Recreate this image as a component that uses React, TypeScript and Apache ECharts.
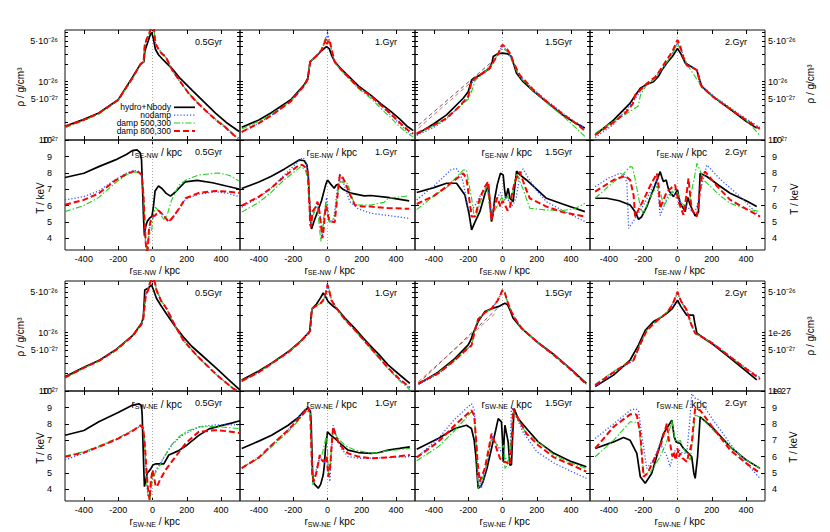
import React, { useEffect, useRef } from "react";
import * as echarts from "echarts";

type Pt = [number, number];

// ---------- labels / ticks ----------
const TIMES = ["0.5Gyr", "1.Gyr", "1.5Gyr", "2.Gyr"];
const SERIES_NAMES = ["hydro+Nbody", "nodamp", "damp 500,300", "damp 800,300"];
const X_TICKS = [-400, -200, 0, 200, 400];
const T_TICKS = [4, 5, 6, 7, 8, 9, 10];
const RHO_LABEL_VALUES = [1, 5, 10, 50]; // units of 1e-27 g/cm^3
const RHO_LABELS = ["10⁻²⁷", "5·10⁻²⁷", "10⁻²⁶", "5·10⁻²⁶"];
const RHO_LABELS_ALT = ["1e-27", "5·10⁻²⁷", "1e-26", "5·10⁻²⁶"];
const RHO_TICK_VALUES = [1, 2, 3, 4, 5, 6, 7, 8, 9, 10, 20, 30, 40, 50, 60, 70];
const AXIS_DIRS = ["SE-NW", "SW-NE"];

// ---------- data: density in units of 1e-27 g/cm^3, temperature in keV ----------
// SE-NW 0.5 Gyr
const seNwRho05Hydro: Pt[] = [[-510,1.72],[-400,2.26],[-313,2.9],[-200,4.9],[-120,11.5],[-70,20],[-50,22],[-45,33],[-40,37],[-25,50],[-12,66],[-5,70],[5,55],[17,36],[35,29],[55,25],[80,21],[113,17],[160,11.5],[230,7.2],[300,4.5],[367,2.9],[430,2.0],[505,1.4]];
const seNwRho05Nodamp: Pt[] = [[-510,1.68],[-400,2.2],[-313,2.85],[-200,4.8],[-120,11],[-70,19.5],[-52,22],[-46,40],[-35,52],[-20,65],[-8,85],[0,90],[8,85],[17,46],[35,36],[55,31],[76,27],[95,21],[114,16],[160,10],[211,6.3],[260,4.4],[309,3.2],[370,2.2],[425,1.62],[473,1.2],[500,1.06]];
const seNwRho05D500: Pt[] = [[-510,1.62],[-400,2.15],[-313,2.8],[-200,4.75],[-120,10.8],[-70,19.5],[-52,22],[-46,42],[-35,54],[-20,66],[-8,82],[0,88],[8,82],[17,45],[35,37],[55,31],[76,26.5],[95,21],[114,15.5],[160,10],[211,6.4],[260,4.5],[309,3.25],[370,2.25],[425,1.7],[473,1.25],[500,1.1]];
const seNwRho05D800: Pt[] = [[-510,1.7],[-400,2.22],[-313,2.88],[-200,4.85],[-120,11.2],[-70,20],[-52,22],[-46,41],[-35,53],[-20,66],[-8,84],[0,90],[8,84],[17,45],[35,36],[55,30],[76,27],[95,21],[114,16],[160,10.2],[211,6.3],[260,4.4],[309,3.2],[370,2.2],[425,1.65],[473,1.22],[500,1.08]];
const seNwT05Hydro: Pt[] = [[-510,7.72],[-400,7.98],[-313,8.39],[-216,8.8],[-150,9.15],[-118,9.37],[-90,9.42],[-72,9.25],[-64,8.8],[-58,7.0],[-52,5.2],[-47,4.15],[-40,4.7],[-30,5.05],[-15,5.25],[-3,5.35],[5,5.9],[15,6.9],[35,7.2],[55,7.05],[80,6.75],[105,6.58],[135,6.85],[190,7.45],[260,7.55],[350,7.4],[430,7.2],[505,7.02]];
const seNwT05Nodamp: Pt[] = [[-510,6.35],[-400,6.55],[-313,6.9],[-216,7.6],[-150,8.0],[-110,8.15],[-80,8.1],[-62,7.9],[-52,6.6],[-46,5.0],[-40,3.7],[-33,3.2],[-25,3.8],[-15,4.7],[-5,5.1],[5,5.3],[17,5.4],[35,5.7],[55,5.5],[76,5.25],[95,5.05],[120,5.3],[163,5.9],[192,6.4],[270,6.7],[367,6.85],[440,6.75],[505,6.55]];
const seNwT05D500: Pt[] = [[-510,5.63],[-400,6.0],[-313,6.5],[-216,7.4],[-150,7.9],[-110,8.05],[-80,8.05],[-62,7.85],[-52,6.8],[-46,5.2],[-40,3.6],[-32,3.3],[-20,4.2],[-5,4.5],[5,5.4],[17,5.9],[35,5.7],[56,5.3],[66,5.15],[85,5.4],[110,6.3],[153,7.25],[200,7.6],[270,7.88],[386,8.0],[450,7.85],[505,7.5]];
const seNwT05D800: Pt[] = [[-510,6.05],[-400,6.35],[-313,6.75],[-216,7.55],[-150,7.95],[-110,8.1],[-80,8.05],[-62,7.85],[-52,6.5],[-46,5.0],[-40,3.8],[-35,3.2],[-28,3.3],[-20,4.6],[-10,5.1],[2,5.35],[17,5.4],[35,5.7],[55,5.5],[76,5.25],[95,5.0],[120,5.3],[163,5.95],[192,6.45],[270,6.78],[367,6.9],[440,6.85],[505,6.78]];

// SE-NW 1 Gyr
const seNwRho10Hydro: Pt[] = [[-500,1.65],[-400,2.2],[-330,2.9],[-214,4.9],[-136,8.8],[-115,11.4],[-108,16],[-101,22],[-68,27],[-35,34],[-6,40],[10,37],[25,28],[42,22],[80,16.5],[116,13],[180,8.5],[252,5.9],[310,4.2],[369,3.1],[420,2.3],[466,1.7],[500,1.45]];
const seNwRho10Nodamp: Pt[] = [[-500,1.35],[-400,1.95],[-330,2.6],[-214,4.6],[-136,8.5],[-115,11],[-101,22],[-68,27],[-35,34],[-15,47],[-5,55],[0,72],[5,60],[15,45],[25,32],[42,22],[80,16],[116,12.5],[180,8],[252,5.6],[310,3.9],[369,2.7],[420,1.9],[466,1.4],[500,1.2]];
const seNwRho10D500: Pt[] = [[-500,1.55],[-400,2.1],[-330,2.75],[-214,4.7],[-136,8.5],[-115,11],[-101,22],[-68,27],[-35,35],[-20,48],[-10,58],[0,52],[8,54],[15,45],[25,32],[42,21],[80,15.5],[116,12],[180,7.6],[252,5.2],[310,3.5],[369,2.4],[420,1.7],[466,1.3],[500,1.12]];
const seNwRho10D800: Pt[] = [[-500,1.38],[-400,1.95],[-330,2.6],[-214,4.6],[-136,8.5],[-115,11],[-101,22],[-68,27],[-35,35],[-15,48],[-8,54],[-2,44],[5,50],[12,52],[22,38],[42,22],[80,16],[116,12.5],[180,8],[252,5.7],[310,4.0],[369,2.8],[420,2.0],[466,1.5],[500,1.28]];
const seNwT10Hydro: Pt[] = [[-500,7.05],[-400,7.45],[-330,7.78],[-250,8.25],[-165,8.8],[-136,8.75],[-120,8.5],[-112,7.8],[-105,6.24],[-98,5.0],[-93,4.57],[-80,5.0],[-58,5.63],[-35,6.3],[-10,7.3],[0,7.57],[20,7.3],[39,7.06],[50,7.25],[58,7.3],[90,7.0],[136,6.76],[214,6.6],[252,6.62],[350,6.5],[476,6.29]];
const seNwT10Nodamp: Pt[] = [[-500,5.9],[-400,6.5],[-330,7.06],[-250,7.9],[-165,8.75],[-146,8.94],[-130,8.8],[-112,8.0],[-104,6.0],[-96,4.71],[-88,5.4],[-60,6.2],[-40,5.2],[-30,4.1],[-20,5.2],[-5,6.5],[5,5.6],[15,5.0],[35,5.1],[55,6.8],[72,7.98],[90,7.5],[130,6.24],[180,5.8],[252,5.53],[350,5.4],[476,5.22]];
const seNwT10D500: Pt[] = [[-500,5.6],[-400,6.2],[-330,6.8],[-250,7.6],[-155,8.39],[-130,8.2],[-112,7.5],[-104,6.0],[-98,4.71],[-88,5.3],[-60,6.0],[-48,4.8],[-39,3.8],[-30,4.5],[-10,6.24],[0,5.8],[8,5.02],[20,5.0],[42,5.33],[60,6.8],[72,7.47],[117,7.37],[140,6.6],[159,6.04],[252,6.04],[330,6.2],[353,6.45],[476,6.6]];
const seNwT10D800: Pt[] = [[-500,6.0],[-400,6.55],[-330,7.06],[-250,7.8],[-165,8.49],[-146,8.49],[-125,8.3],[-115,7.98],[-105,6.0],[-101,4.82],[-95,4.7],[-88,5.63],[-70,5.9],[-58,6.24],[-45,5.5],[-35,4.5],[-29,4.0],[-22,4.6],[-16,5.43],[-8,6.0],[0,5.5],[10,5.1],[23,5.02],[42,4.98],[55,6.3],[72,7.88],[85,7.8],[101,7.47],[130,6.7],[159,6.04],[200,5.95],[252,5.94],[350,5.85],[476,5.8]];

// SE-NW 1.5 Gyr
const seNwRho15Hydro: Pt[] = [[-500,1.25],[-400,1.9],[-326,2.7],[-229,5.2],[-200,6.7],[-185,9.5],[-180,10.7],[-132,13],[-74,17],[-60,22],[-54,27],[-30,30],[0,31],[30,30],[52,27],[70,18],[82,14],[120,10],[180,6.9],[256,4.5],[350,2.7],[420,2.0],[480,1.6]];
const seNwRho15Nodamp: Pt[] = [[-500,1.2],[-400,1.65],[-326,2.3],[-229,4.3],[-200,5.3],[-180,9.5],[-150,11.5],[-100,14.5],[-74,17],[-45,24],[-25,31],[-8,38],[0,40],[10,38],[33,33],[45,29],[62,21],[101,12.5],[180,7.4],[256,4.8],[350,2.9],[420,2.1],[480,1.6]];
const seNwRho15D500: Pt[] = [[-500,1.3],[-400,1.75],[-326,2.4],[-229,4.2],[-200,5.0],[-175,7.5],[-160,10.5],[-130,12.5],[-100,15],[-74,17],[-45,24],[-25,30],[-8,35],[0,37],[10,36],[33,32],[45,27],[62,20],[101,12],[180,6.9],[256,4.4],[350,2.6],[420,1.7],[480,1.15]];
const seNwRho15D800: Pt[] = [[-500,1.3],[-400,1.8],[-326,2.35],[-250,3.8],[-200,5.6],[-180,10.2],[-150,12],[-100,15],[-74,17],[-45,24],[-25,30],[-8,40],[0,43],[10,41],[33,34],[45,30],[62,22],[101,13],[180,7.2],[256,4.6],[350,2.8],[420,2.0],[480,1.45]];
const seNwRho15ThinA: Pt[] = [[-490,1.8],[-54,23]];
const seNwRho15ThinB: Pt[] = [[-490,1.6],[-62,20]];
const seNwT15Hydro: Pt[] = [[-500,6.8],[-400,7.1],[-326,7.37],[-268,7.37],[-219,6.65],[-195,5.5],[-180,4.51],[-160,5.0],[-132,5.63],[-100,6.8],[-83,7.27],[-74,6.3],[-64,5.02],[-55,5.5],[-45,6.45],[-30,7.3],[-12,7.98],[4,7.88],[12,7.0],[19,6.45],[33,7.06],[43,6.45],[62,6.24],[72,7.2],[82,8.12],[100,7.9],[140,7.57],[200,7.0],[256,6.45],[350,6.1],[480,5.63]];
const seNwT15Nodamp: Pt[] = [[-500,6.35],[-400,7.2],[-300,8.2],[-270,8.29],[-250,8.0],[-230,7.47],[-200,5.8],[-190,5.63],[-160,6.0],[-120,6.8],[-85,7.3],[-75,6.0],[-64,5.3],[-50,6.0],[-30,6.5],[-12,6.8],[5,6.2],[20,6.6],[40,6.2],[60,6.0],[80,6.5],[100,7.8],[120,8.25],[150,7.7],[200,6.9],[256,6.24],[350,5.7],[480,5.02]];
const seNwT15D500: Pt[] = [[-500,5.75],[-400,6.6],[-326,7.1],[-229,8.18],[-210,8.2],[-190,7.0],[-180,6.45],[-165,5.33],[-150,5.5],[-120,6.5],[-90,7.2],[-75,5.9],[-64,5.3],[-45,5.7],[-20,6.2],[-5,6.5],[10,6.3],[30,6.6],[50,6.0],[65,7.2],[82,7.98],[120,7.0],[159,5.84],[256,5.73],[350,5.7],[420,5.8],[480,6.14]];
const seNwT15D800: Pt[] = [[-500,6.1],[-400,6.6],[-326,7.16],[-229,7.98],[-210,7.67],[-195,6.5],[-180,5.33],[-160,5.33],[-132,6.45],[-100,7.2],[-83,7.47],[-72,6.0],[-64,5.12],[-50,5.84],[-30,6.5],[-12,5.94],[0,6.3],[14,6.04],[30,5.7],[43,5.84],[55,6.7],[72,7.47],[101,8.08],[130,7.2],[159,6.45],[256,5.94],[350,5.6],[480,5.33]];

// SE-NW 2 Gyr
const seNwRho20Hydro: Pt[] = [[-480,1.22],[-373,2.2],[-276,4.3],[-217,7.7],[-180,9.0],[-140,10],[-110,12.5],[-91,15.8],[-62,21],[-30,27],[0,37],[20,30],[45,21],[74,18.6],[113,15.8],[130,10.5],[142,8.2],[210,5.5],[300,3.5],[400,2.1],[462,1.6]];
const seNwRho20Nodamp: Pt[] = [[-480,1.1],[-373,1.85],[-300,3.3],[-250,5.0],[-200,8.0],[-150,10.5],[-100,15],[-60,22],[-30,31],[0,47],[25,34],[54,20],[80,18.5],[113,15.5],[135,9],[150,8.2],[210,5.7],[300,3.7],[400,2.3],[480,1.65]];
const seNwRho20D500: Pt[] = [[-480,1.3],[-373,2.1],[-300,2.8],[-230,3.8],[-215,6.0],[-180,8.8],[-140,10.5],[-100,15.5],[-60,22],[-30,30],[0,45],[25,32],[54,20],[90,14],[113,11],[142,8.0],[210,5.6],[300,3.6],[400,2.2],[480,1.2]];
const seNwRho20D800: Pt[] = [[-480,1.22],[-373,2.0],[-300,3.0],[-260,4.2],[-247,5.9],[-179,9.3],[-130,12],[-101,15.8],[-70,22],[-30,33],[0,52],[15,42],[30,28],[54,19],[80,18],[113,15.8],[135,9.0],[142,8.2],[210,5.4],[300,3.5],[400,2.2],[480,1.55]];
const seNwT20Hydro: Pt[] = [[-480,6.45],[-412,6.45],[-340,6.3],[-276,6.04],[-245,5.6],[-227,5.16],[-210,5.3],[-179,5.94],[-140,7.0],[-101,8.08],[-90,7.7],[-82,7.47],[-66,7.57],[-55,7.1],[-47,6.86],[-23,6.55],[0,6.96],[8,6.5],[16,6.14],[45,5.63],[60,6.5],[74,6.04],[103,5.37],[122,5.6],[132,7.98],[171,7.78],[240,7.25],[307,6.76],[400,6.3],[462,5.94]];
const seNwT20Nodamp: Pt[] = [[-480,7.16],[-400,7.7],[-334,7.98],[-310,7.9],[-295,7.37],[-285,4.61],[-260,5.0],[-200,6.0],[-150,7.0],[-120,7.6],[-101,5.4],[-85,5.8],[-60,6.5],[-30,6.9],[-10,6.5],[10,6.3],[30,5.9],[50,6.0],[70,5.8],[90,5.6],[110,5.8],[140,7.2],[171,8.49],[250,7.6],[365,6.55],[481,5.33]];
const seNwT20D500: Pt[] = [[-480,6.45],[-400,7.2],[-320,7.9],[-276,8.39],[-262,8.35],[-250,7.8],[-217,5.94],[-200,5.5],[-160,6.5],[-120,7.2],[-100,6.8],[-80,6.0],[-50,6.5],[-20,7.0],[0,6.8],[20,6.2],[40,6.0],[70,6.3],[100,7.8],[113,8.59],[130,8.2],[152,7.57],[250,6.6],[307,6.14],[400,5.8],[481,5.63]];
const seNwT20D800: Pt[] = [[-480,6.86],[-373,7.57],[-305,7.82],[-276,7.57],[-256,6.65],[-247,5.33],[-225,5.8],[-198,6.35],[-160,7.2],[-120,7.98],[-110,7.2],[-101,5.84],[-80,6.4],[-62,6.86],[-14,7.27],[-5,6.8],[6,6.24],[35,5.43],[50,6.5],[64,7.67],[75,6.5],[83,5.73],[113,5.33],[130,6.8],[142,7.78],[161,8.08],[230,7.2],[307,6.35],[400,5.8],[481,5.33]];

// SW-NE 0.5 Gyr
const swNeRho05Hydro: Pt[] = [[-510,1.76],[-400,2.55],[-307,3.4],[-210,5.2],[-113,9.1],[-64,14.5],[-54,18],[-48,35],[-45,54],[-25,58],[-6,66],[5,55],[23,39],[50,29],[82,21],[130,13],[179,8.5],[230,5.8],[276,4.4],[373,2.45],[440,1.6],[509,1.05]];
const swNeRho05Nodamp: Pt[] = [[-510,1.7],[-400,2.5],[-307,3.35],[-210,5.1],[-113,9.0],[-64,14],[-54,17],[-45,30],[-39,44],[-25,55],[-16,70],[-5,85],[5,85],[15,70],[23,54],[50,36],[82,26],[130,13.5],[179,7.5],[230,5.1],[276,3.6],[373,1.9],[470,1.1],[500,1.0]];
const swNeRho05D500: Pt[] = [[-510,1.66],[-400,2.45],[-307,3.3],[-210,5.1],[-113,9.0],[-64,14],[-54,17],[-45,31],[-39,45],[-25,56],[-16,72],[-5,86],[5,86],[15,72],[23,55],[50,36],[82,25.5],[130,13.3],[179,7.4],[230,5.0],[276,3.55],[373,1.9],[470,1.1],[500,1.0]];
const swNeRho05D800: Pt[] = [[-510,1.72],[-400,2.5],[-307,3.35],[-210,5.1],[-113,9.0],[-64,14],[-54,17],[-45,30],[-39,44],[-25,54],[-16,70],[-5,84],[5,84],[15,70],[23,54],[50,35],[82,26],[130,13.5],[179,7.5],[230,5.0],[276,3.6],[373,1.9],[470,1.1],[500,1.0]];
const swNeT05Hydro: Pt[] = [[-510,7.31],[-400,7.6],[-313,8.13],[-200,8.7],[-118,9.14],[-80,9.24],[-64,9.14],[-60,8.5],[-56,7.0],[-50,5.0],[-47,4.16],[-40,4.5],[-31,4.98],[-12,5.22],[2,5.48],[17,5.55],[66,5.55],[95,6.1],[150,6.35],[200,6.7],[270,7.3],[330,7.7],[400,7.9],[460,8.05],[510,8.2]];
const swNeT05Nodamp: Pt[] = [[-510,5.8],[-400,6.2],[-313,6.6],[-200,7.1],[-118,7.6],[-64,7.9],[-50,7.5],[-42,6.0],[-35,4.6],[-27,3.6],[-15,3.5],[-5,4.5],[5,5.1],[17,5.1],[40,5.5],[80,6.2],[120,6.8],[173,7.3],[270,7.82],[367,7.95],[440,7.95],[505,7.95]];
const swNeT05D500: Pt[] = [[-510,6.03],[-400,6.3],[-313,6.65],[-200,7.15],[-118,7.6],[-64,7.92],[-50,7.6],[-42,6.0],[-35,4.5],[-25,3.6],[-15,3.3],[-8,4.0],[0,4.6],[10,4.9],[17,5.0],[40,5.4],[70,6.0],[110,6.7],[153,7.21],[200,7.55],[270,7.82],[367,7.85],[440,7.78],[505,7.72]];
const swNeT05D800: Pt[] = [[-510,5.99],[-400,6.25],[-313,6.6],[-200,7.1],[-118,7.55],[-70,7.92],[-55,7.75],[-45,6.8],[-35,5.2],[-27,4.1],[-17,3.35],[-10,4.5],[0,5.18],[8,4.8],[17,4.27],[25,4.15],[45,4.6],[76,5.18],[134,5.99],[192,6.8],[270,7.52],[367,7.62],[440,7.55],[505,7.45]];

// SW-NE 1 Gyr
const swNeRho10Hydro: Pt[] = [[-500,1.55],[-400,2.2],[-326,3.0],[-229,4.7],[-160,7.0],[-110,10.0],[-103,10.8],[-95,20],[-89,26],[-64,31],[-40,40],[-25,48],[-12,42],[4,34],[30,29],[62,24.5],[100,18],[159,11.9],[210,8.0],[256,5.7],[300,4.2],[353,2.8],[420,1.9],[480,1.35]];
const swNeRho10Nodamp: Pt[] = [[-500,1.45],[-400,2.1],[-326,2.95],[-229,4.6],[-160,6.9],[-110,9.8],[-100,11],[-93,22],[-89,26],[-64,29],[-40,32],[-25,36],[-10,48],[0,70],[8,55],[23,36],[62,24],[100,17],[159,11],[256,5.2],[353,2.45],[420,1.55],[480,1.12]];
const swNeRho10D500: Pt[] = [[-500,1.45],[-400,2.1],[-326,2.95],[-229,4.6],[-160,6.9],[-110,9.8],[-100,11],[-93,22],[-89,26],[-64,29],[-40,32],[-25,36],[-5,48],[4,60],[12,52],[23,36],[62,24],[100,17],[159,11],[256,5.2],[353,2.4],[420,1.5],[480,1.05]];
const swNeRho10D800: Pt[] = [[-500,1.5],[-400,2.1],[-326,2.95],[-229,4.6],[-160,6.9],[-110,9.8],[-100,11],[-93,22],[-89,26],[-64,29],[-40,32],[-25,36],[-10,48],[0,66],[8,55],[23,36],[62,24],[100,17],[159,11.2],[256,5.3],[353,2.5],[420,1.6],[480,1.15]];
const swNeT10Hydro: Pt[] = [[-500,6.5],[-400,6.95],[-326,7.31],[-229,7.92],[-170,8.4],[-132,8.84],[-113,8.98],[-100,8.8],[-95,8.0],[-90,6.0],[-85,4.5],[-75,4.3],[-54,4.06],[-40,4.3],[-25,4.87],[-18,5.5],[-12,6.5],[0,7.52],[20,7.3],[43,7.11],[80,6.75],[120,6.4],[180,6.25],[256,6.2],[300,6.25],[353,6.4],[420,6.5],[480,6.6]];
const swNeT10Nodamp: Pt[] = [[-500,5.3],[-400,5.95],[-326,6.7],[-229,7.65],[-170,8.4],[-113,9.1],[-100,8.7],[-94,6.6],[-86,4.67],[-70,5.0],[-50,5.8],[-25,5.9],[-15,5.6],[0,5.8],[14,4.47],[22,6.0],[33,7.92],[50,7.3],[80,6.5],[120,6.0],[180,5.9],[256,5.9],[350,5.95],[480,6.0]];
const swNeT10D500: Pt[] = [[-500,5.3],[-400,5.9],[-326,6.6],[-229,7.52],[-170,8.2],[-122,8.84],[-100,8.6],[-94,6.5],[-86,4.26],[-70,4.8],[-50,5.7],[-30,6.2],[-15,6.9],[-6,7.31],[0,6.5],[4,4.87],[15,5.5],[25,6.8],[33,7.52],[45,7.4],[62,7.11],[100,6.7],[159,6.4],[256,6.2],[350,6.35],[480,6.5]];
const swNeT10D800: Pt[] = [[-500,5.3],[-400,5.95],[-326,6.7],[-229,7.62],[-170,8.3],[-132,8.74],[-113,9.04],[-100,8.53],[-94,6.5],[-89,4.87],[-80,4.47],[-65,5.0],[-45,6.1],[-35,5.8],[-25,5.7],[-12,5.8],[-4,6.0],[4,4.77],[12,5.0],[19,5.9],[26,7.0],[33,7.82],[45,7.4],[62,6.9],[90,6.5],[120,6.2],[180,6.0],[256,5.9],[350,5.95],[480,6.1]];

// SW-NE 1.5 Gyr
const swNeRho15Hydro: Pt[] = [[-490,1.32],[-375,2.1],[-278,3.6],[-200,6.2],[-185,7.5],[-171,9.8],[-142,15.5],[-103,23],[-60,26],[-25,28],[14,32],[30,30],[45,24],[62,17.7],[111,11.9],[200,7.0],[305,4.1],[400,2.35],[489,1.35]];
const swNeRho15Nodamp: Pt[] = [[-490,1.3],[-375,1.95],[-278,3.3],[-200,5.4],[-181,6.0],[-161,11],[-142,17],[-103,22],[-64,26],[-30,35],[-10,46],[0,52],[14,48],[30,33],[52,23],[72,17.7],[111,12],[200,7.1],[305,4.1],[400,2.4],[489,1.3]];
const swNeRho15D500: Pt[] = [[-490,1.35],[-375,2.05],[-278,3.4],[-200,5.5],[-181,6.1],[-161,11],[-142,17],[-103,22],[-64,26],[-30,35],[-10,47],[0,54],[14,48],[30,33],[52,23],[72,17.5],[111,11.8],[200,7.0],[305,4.0],[400,2.3],[489,1.3]];
const swNeRho15D800: Pt[] = [[-490,1.35],[-375,2.0],[-278,3.4],[-200,5.5],[-181,6.0],[-161,11],[-142,17],[-103,22],[-64,26],[-30,35],[-10,46],[0,54],[14,48],[30,33],[52,23],[72,17.7],[111,12],[200,7.0],[305,4.0],[400,2.3],[489,1.3]];
const swNeRho15ThinA: Pt[] = [[-490,1.35],[-25,27]];
const swNeRho15ThinB: Pt[] = [[-490,1.45],[-45,21]];
const swNeT15Hydro: Pt[] = [[-500,6.45],[-375,7.11],[-278,7.72],[-210,7.92],[-181,7.72],[-165,7.0],[-155,6.0],[-142,4.06],[-125,4.2],[-113,4.47],[-90,5.3],[-64,6.5],[-40,7.6],[-25,8.33],[-6,8.13],[0,7.0],[4,5.69],[10,7.2],[14,7.92],[33,6.9],[43,5.48],[52,5.5],[60,7.5],[68,8.94],[91,8.33],[150,7.6],[208,6.9],[300,6.2],[402,5.69],[489,5.38]];
const swNeT15Nodamp: Pt[] = [[-500,5.95],[-375,7.1],[-278,8.3],[-181,9.24],[-165,8.9],[-150,6.3],[-142,4.87],[-123,4.06],[-100,5.0],[-75,6.5],[-60,7.31],[-45,7.0],[-20,6.5],[-6,6.3],[10,6.0],[33,5.69],[45,6.5],[52,9.04],[70,8.7],[120,7.5],[200,6.3],[300,5.6],[400,5.1],[489,4.67]];
const swNeT15D500: Pt[] = [[-500,5.75],[-375,6.6],[-278,7.6],[-181,8.74],[-165,8.5],[-150,6.0],[-142,4.06],[-120,4.5],[-95,5.5],[-64,7.11],[-45,6.9],[-25,6.6],[-6,6.5],[8,6.7],[14,5.28],[30,5.5],[45,6.5],[62,8.74],[82,8.4],[140,7.4],[208,6.9],[300,6.1],[400,5.6],[489,5.28]];
const swNeT15D800: Pt[] = [[-500,5.95],[-375,6.9],[-278,7.92],[-181,8.84],[-165,8.53],[-150,6.5],[-146,5.69],[-132,4.47],[-103,5.28],[-80,6.5],[-64,7.41],[-50,7.0],[-35,6.5],[-15,5.9],[0,5.69],[14,5.69],[30,5.6],[43,5.48],[52,6.5],[62,8.94],[82,8.53],[140,7.4],[208,6.7],[300,5.95],[400,5.5],[489,5.08]];

// SW-NE 2 Gyr
const swNeRho20Hydro: Pt[] = [[-480,1.19],[-373,1.87],[-276,3.4],[-227,6.2],[-188,11],[-140,15.5],[-100,18],[-62,21.5],[-30,26],[0,36],[20,28],[54,20],[93,20],[100,15],[113,9.8],[160,7.8],[210,6.2],[300,3.8],[400,2.2],[462,1.55]];
const swNeRho20Nodamp: Pt[] = [[-480,1.2],[-373,2.0],[-300,2.8],[-256,3.3],[-217,6.2],[-179,11],[-120,16],[-62,22],[-30,31],[0,48],[20,35],[54,23],[80,13.5],[103,9.6],[160,8.0],[210,6.5],[300,4.1],[400,2.45],[481,1.7]];
const swNeRho20D500: Pt[] = [[-480,1.3],[-373,2.15],[-300,2.95],[-256,3.5],[-217,6.5],[-179,11.2],[-120,16.5],[-62,22.5],[-30,30],[0,49],[20,35],[54,24.5],[80,14],[103,9.8],[160,7.9],[210,6.4],[300,4.0],[400,2.4],[481,1.65]];
const swNeRho20D800: Pt[] = [[-480,1.25],[-373,2.1],[-300,2.9],[-256,3.4],[-217,6.4],[-179,11],[-120,16],[-62,22],[-30,30],[0,50],[20,35],[54,24.5],[80,14],[103,9.8],[160,7.9],[210,6.4],[300,4.0],[400,2.4],[481,1.6]];
const swNeT20Hydro: Pt[] = [[-480,6.5],[-373,6.9],[-315,7.17],[-276,7.0],[-237,6.2],[-217,4.77],[-188,4.37],[-150,4.98],[-82,7.41],[-33,8.23],[-19,7.21],[-8,6.9],[16,6.8],[35,6.5],[54,6.3],[83,5.99],[95,5.0],[103,4.67],[117,5.99],[132,8.43],[210,7.72],[307,6.6],[400,5.8],[481,5.28]];
const swNeT20Nodamp: Pt[] = [[-480,7.11],[-373,8.0],[-276,8.84],[-245,8.94],[-227,8.8],[-208,7.31],[-179,5.28],[-140,5.8],[-101,6.8],[-60,6.0],[-43,5.38],[-20,6.3],[0,6.5],[30,6.2],[54,6.2],[70,8.0],[83,9.85],[100,9.6],[132,9.45],[210,8.2],[307,6.8],[400,5.6],[481,4.67]];
const swNeT20D500: Pt[] = [[-480,5.99],[-373,7.0],[-276,8.13],[-240,8.1],[-227,8.02],[-208,6.1],[-198,4.98],[-160,5.0],[-101,5.99],[-60,7.0],[-33,8.23],[-14,7.0],[0,6.9],[16,7.0],[45,6.3],[74,5.8],[90,7.2],[103,8.53],[132,8.43],[210,7.6],[307,6.6],[400,5.8],[481,5.28]];
const swNeT20D800: Pt[] = [[-480,6.5],[-373,7.82],[-276,8.59],[-245,8.6],[-237,8.53],[-217,7.41],[-198,4.77],[-175,4.98],[-101,6.6],[-62,8.02],[-50,7.0],[-43,6.8],[-30,6.0],[-23,6.3],[-10,5.8],[0,6.5],[8,6.0],[16,6.2],[30,5.9],[54,5.69],[83,6.8],[95,8.2],[103,8.94],[132,8.84],[210,7.72],[307,6.4],[400,5.6],[481,4.98]];

// ---------- layout & style ----------
const FONT = "'Liberation Sans', Arial, Helvetica, sans-serif";
const COL_LEFT = [65, 240, 415, 590];
const PANEL_W = 175;
const ROW_TOP = [30, 140, 281, 391];
const PANEL_H = 110;
const X_MIN = -510;
const X_MAX = 510;
const RHO_LOG_MAX = 1.887;
const T_MIN = 3.28;
const T_MAX = 10.02;

const LINE_STYLES = [
  { color: "#000000", width: 1.7, type: "solid" as any },
  { color: "#3355ff", width: 1.3, type: [1.2, 2] as any },
  { color: "#1fd11f", width: 1.1, type: [6, 2, 1.5, 2] as any },
  { color: "#ff0000", width: 2, type: [6, 3] as any },
];

const log10 = (v: number) => Math.log(v) / Math.LN10;

type Panel = { row: number; col: number; kind: "rho" | "T"; curves: Pt[][]; thin?: Pt[][] };

const PANELS: Panel[] = [
  { row: 0, col: 0, kind: "rho", curves: [seNwRho05Hydro, seNwRho05Nodamp, seNwRho05D500, seNwRho05D800] },
  { row: 0, col: 1, kind: "rho", curves: [seNwRho10Hydro, seNwRho10Nodamp, seNwRho10D500, seNwRho10D800] },
  { row: 0, col: 2, kind: "rho", curves: [seNwRho15Hydro, seNwRho15Nodamp, seNwRho15D500, seNwRho15D800], thin: [seNwRho15ThinA, seNwRho15ThinB] },
  { row: 0, col: 3, kind: "rho", curves: [seNwRho20Hydro, seNwRho20Nodamp, seNwRho20D500, seNwRho20D800] },
  { row: 1, col: 0, kind: "T", curves: [seNwT05Hydro, seNwT05Nodamp, seNwT05D500, seNwT05D800] },
  { row: 1, col: 1, kind: "T", curves: [seNwT10Hydro, seNwT10Nodamp, seNwT10D500, seNwT10D800] },
  { row: 1, col: 2, kind: "T", curves: [seNwT15Hydro, seNwT15Nodamp, seNwT15D500, seNwT15D800] },
  { row: 1, col: 3, kind: "T", curves: [seNwT20Hydro, seNwT20Nodamp, seNwT20D500, seNwT20D800] },
  { row: 2, col: 0, kind: "rho", curves: [swNeRho05Hydro, swNeRho05Nodamp, swNeRho05D500, swNeRho05D800] },
  { row: 2, col: 1, kind: "rho", curves: [swNeRho10Hydro, swNeRho10Nodamp, swNeRho10D500, swNeRho10D800] },
  { row: 2, col: 2, kind: "rho", curves: [swNeRho15Hydro, swNeRho15Nodamp, swNeRho15D500, swNeRho15D800], thin: [swNeRho15ThinA, swNeRho15ThinB] },
  { row: 2, col: 3, kind: "rho", curves: [swNeRho20Hydro, swNeRho20Nodamp, swNeRho20D500, swNeRho20D800] },
  { row: 3, col: 0, kind: "T", curves: [swNeT05Hydro, swNeT05Nodamp, swNeT05D500, swNeT05D800] },
  { row: 3, col: 1, kind: "T", curves: [swNeT10Hydro, swNeT10Nodamp, swNeT10D500, swNeT10D800] },
  { row: 3, col: 2, kind: "T", curves: [swNeT15Hydro, swNeT15Nodamp, swNeT15D500, swNeT15D800] },
  { row: 3, col: 3, kind: "T", curves: [swNeT20Hydro, swNeT20Nodamp, swNeT20D500, swNeT20D800] },
];

function rhoLabel(v: number, texts: string[]) {
  let best = 0;
  let bd = Infinity;
  RHO_LABEL_VALUES.forEach((rv, i) => {
    const d = Math.abs(log10(rv) - v);
    if (d < bd) { bd = d; best = i; }
  });
  return texts[best];
}

function rTitle(dir: string, x: number, y: number) {
  return {
    type: "text",
    x,
    y,
    z: 100,
    style: {
      text: `{a|r}{b|${dir}}{a| / kpc}`,
      fill: "#000",
      verticalAlign: "middle",
      align: "left",
      rich: {
        a: { fontSize: 10, fontFamily: FONT, fill: "#000" },
        b: { fontSize: 7, fontFamily: FONT, fill: "#000", padding: [5, 0, 0, 0] },
      },
    },
  };
}

function buildOption() {
  const grid: any[] = [];
  const xAxis: any[] = [];
  const yAxis: any[] = [];
  const series: any[] = [];
  const graphic: any[] = [];

  PANELS.forEach((p, idx) => {
    const left = COL_LEFT[p.col];
    const top = ROW_TOP[p.row];
    grid.push({ left, top, width: PANEL_W, height: PANEL_H, show: true, borderColor: "#111", borderWidth: 1, backgroundColor: "transparent" });
    const isT = p.kind === "T";
    const baseX = {
      type: "value", gridIndex: idx, min: X_MIN, max: X_MAX,
      axisLine: { show: false, onZero: false }, splitLine: { show: false },
      axisTick: { show: true, inside: true, length: 4, customValues: X_TICKS, lineStyle: { color: "#000", width: 1 } },
    };
    xAxis.push({ ...baseX, position: "bottom", axisLabel: { show: isT, customValues: X_TICKS, fontSize: 9, fontFamily: FONT, color: "#000", margin: 4 } });
    xAxis.push({ ...baseX, position: "top", axisLabel: { show: false } });

    const yMin = isT ? T_MIN : 0;
    const yMax = isT ? T_MAX : RHO_LOG_MAX;
    const tickVals = isT ? T_TICKS : RHO_TICK_VALUES.map(log10);
    const labelVals = isT ? T_TICKS : RHO_LABEL_VALUES.map(log10);
    const baseY = {
      type: "value", gridIndex: idx, min: yMin, max: yMax,
      axisLine: { show: false, onZero: false }, splitLine: { show: false },
      axisTick: { show: true, inside: true, length: isT ? 4 : 3, customValues: tickVals, lineStyle: { color: "#000", width: 1 } },
    };
    const leftTexts = RHO_LABELS;
    const rightTexts = p.row === 2 ? RHO_LABELS_ALT : RHO_LABELS;
    yAxis.push({
      ...baseY, position: "left",
      axisLabel: {
        show: p.col === 0, customValues: labelVals, fontSize: 9, fontFamily: FONT, color: "#000",
        margin: isT ? 13 : 7,
        formatter: (v: number) => (isT ? String(Math.round(v)) : rhoLabel(v, leftTexts)),
      },
    });
    yAxis.push({
      ...baseY, position: "right",
      axisLabel: {
        show: p.col === 3, customValues: labelVals, fontSize: 9, fontFamily: FONT, color: "#000",
        margin: isT ? 7 : 3,
        formatter: (v: number) => (isT ? String(Math.round(v)) : rhoLabel(v, rightTexts)),
      },
    });

    const conv = (pts: Pt[]) => pts.map(([x, v]) => [x, isT ? v : log10(v)]);

    (p.thin || []).forEach((pts, k) => {
      series.push({
        type: "line", xAxisIndex: idx * 2, yAxisIndex: idx * 2, data: conv(pts), symbol: "none", silent: true,
        lineStyle: { color: k === 0 ? "#333" : "#d04040", width: 0.8, type: [4, 3] }, z: 2,
      });
    });

    p.curves.forEach((pts, s) => {
      const st = LINE_STYLES[s];
      const ser: any = {
        type: "line", name: SERIES_NAMES[s], xAxisIndex: idx * 2, yAxisIndex: idx * 2,
        data: conv(pts), symbol: "none", silent: true, clip: true,
        lineStyle: { color: st.color, width: st.width, type: st.type }, z: 3 + s,
      };
      if (s === 0) {
        ser.markLine = {
          silent: true, symbol: ["none", "none"], label: { show: false },
          lineStyle: { color: "#aaaaaa", width: 1, type: [1, 2] },
          data: [{ xAxis: 0 }], z: 1,
        };
      }
      series.push(ser);
    });

    // time label
    const timeY = [41.5, 152, 292.5, 402.5][p.row];
    graphic.push({
      type: "text", x: left + PANEL_W - 18, y: timeY, z: 100,
      style: { text: TIMES[p.col], fontSize: 9, fontFamily: FONT, fill: "#000", align: "right", verticalAlign: "middle" },
    });
    // x titles for temperature rows
    if (isT) {
      const dir = AXIS_DIRS[p.row === 1 ? 0 : 1];
      const zeroX = left + PANEL_W / 2;
      graphic.push(rTitle(dir, zeroX - 21, p.row === 1 ? 152.5 : 404));
      graphic.push(rTitle(dir, zeroX - 23, p.row === 1 ? 270 : 521.5));
    }
  });

  // y axis titles
  const yTitle = (text: string, x: number, y: number) => ({
    type: "text", x, y, rotation: Math.PI / 2, z: 100,
    style: { text, fontSize: 10, fontFamily: FONT, fill: "#000", align: "center", verticalAlign: "middle" },
  });
  graphic.push(yTitle("ρ / g/cm³", 20, 87));
  graphic.push(yTitle("ρ / g/cm³", 810, 84));
  graphic.push(yTitle("T / keV", 40, 198));
  graphic.push(yTitle("T / keV", 794, 199));
  graphic.push(yTitle("ρ / g/cm³", 20, 337));
  graphic.push(yTitle("ρ / g/cm³", 810, 336));
  graphic.push(yTitle("T / keV", 40, 448));
  graphic.push(yTitle("T / keV", 793, 447));

  // legend (inside first panel)
  const legY = [107.3, 115.2, 123, 131];
  SERIES_NAMES.forEach((name, i) => {
    const st = LINE_STYLES[i];
    graphic.push({
      type: "text", x: 171, y: legY[i], z: 100,
      style: { text: name, fontSize: 8.5, fontFamily: FONT, fill: "#000", align: "right", verticalAlign: "middle" },
    });
    graphic.push({
      type: "line", z: 100,
      shape: { x1: 174, y1: legY[i], x2: 195, y2: legY[i] },
      style: { stroke: st.color, lineWidth: st.width, lineDash: Array.isArray(st.type) ? st.type : null },
    });
  });

  return {
    animation: false,
    backgroundColor: "#ffffff",
    textStyle: { fontFamily: FONT },
    grid, xAxis, yAxis, series, graphic,
  };
}

export default function App() {
  const ref = useRef<HTMLDivElement>(null);
  useEffect(() => {
    if (!ref.current) return;
    const chart = echarts.init(ref.current, undefined, { renderer: "svg" });
    chart.setOption(buildOption() as any);
    return () => chart.dispose();
  }, []);
  return (
    <div
      ref={ref}
      style={{ position: "absolute", left: 0, top: 0, width: 830, height: 532, background: "#fff" }}
    />
  );
}
